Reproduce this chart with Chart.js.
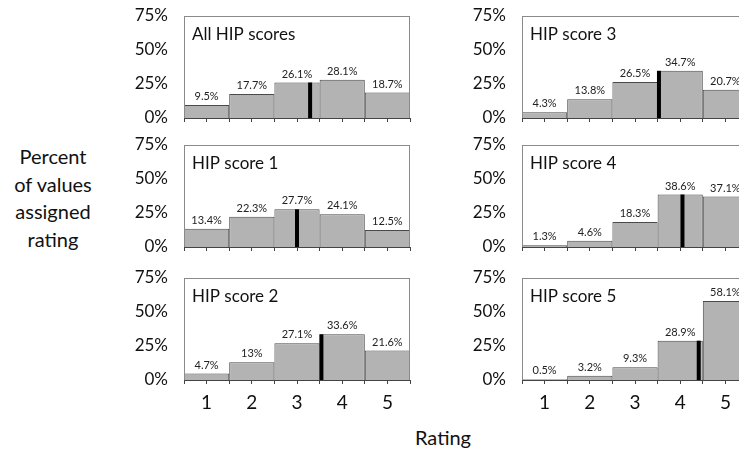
<!DOCTYPE html>
<html>
<head>
<meta charset="utf-8">
<script src="https://cdn.jsdelivr.net/npm/chart.js@4.4.1/dist/chart.umd.min.js"></script>
<style>
  html, body { margin:0; padding:0; background:#fff; overflow:hidden; width:739px; height:455px; }
  body { position:relative; font-family: Lato, "Open Sans", sans-serif; color:#111; }
  .panel { position:absolute; }
  .ytitle { position:absolute; left:0; top:143px; width:106px; text-align:center; font-size:20px; line-height:27.5px; }
  .xtitle { position:absolute; left:393px; width:100px; top:425px; text-align:center; font-size:20px; }
</style>
</head>
<body>
<div class="ytitle">Percent<br>of values<br>assigned<br>rating</div>
<div class="xtitle">Rating</div>
<script>
// ---- data ----
const ratings = [1, 2, 3, 4, 5];
const panelNames = ['All HIP scores', 'HIP score 1', 'HIP score 2', 'HIP score 3', 'HIP score 4', 'HIP score 5'];
const allHip = [9.5, 17.7, 26.1, 28.1, 18.7];
const hip1 = [13.4, 22.3, 27.7, 24.1, 12.5];
const hip2 = [4.7, 13, 27.1, 33.6, 21.6];
const hip3 = [4.3, 13.8, 26.5, 34.7, 20.7];
const hip4 = [1.3, 4.6, 18.3, 38.6, 37.1];
const hip5 = [0.5, 3.2, 9.3, 28.9, 58.1];
const meanRatings = [3.29, 3.00, 3.54, 3.53, 4.05, 4.41];
const yTicks = [0, 25, 50, 75];

const series = [allHip, hip1, hip2, hip3, hip4, hip5];
// layout: [areaLeft, areaTop, bottomRow]
const layoutPos = [
  [184, 16, false], [184, 145, false], [184, 278, true],
  [522, 16, false], [522, 145, false], [522, 278, true]
];
const AREA_W = 226, AREA_H = 102, Y_W = 60, PAD_T = 14, PAD_R = 10;
const FONT = 'Lato, "Open Sans", sans-serif';

const panelPlugin = {
  id: 'panelDecor',
  beforeDatasetsDraw(chart) {
    const a = chart.chartArea, ctx = chart.ctx;
    ctx.save();
    ctx.fillStyle = '#fff';
    ctx.fillRect(a.left, a.top, a.right - a.left, a.bottom - a.top);
    ctx.restore();
  },
  afterDatasetsDraw(chart, args, opts) {
    const a = chart.chartArea, ctx = chart.ctx;
    ctx.save();
    // box
    ctx.strokeStyle = '#8a8a8a';
    ctx.lineWidth = 1;
    ctx.strokeRect(Math.round(a.left) + 0.5, Math.round(a.top) + 0.5, Math.round(a.right - a.left) - 1, Math.round(a.bottom - a.top));
    ctx.strokeStyle = '#444';
    ctx.beginPath();
    ctx.moveTo(a.left, Math.round(a.bottom) + 0.5);
    ctx.lineTo(a.right, Math.round(a.bottom) + 0.5);
    ctx.stroke();
    // value labels
    const meta = chart.getDatasetMeta(0);
    const vals = chart.data.datasets[0].data;
    ctx.fillStyle = '#222';
    ctx.font = '11px ' + FONT;
    ctx.textAlign = 'center';
    ctx.textBaseline = 'bottom';
    meta.data.forEach((el, i) => {
      ctx.fillText(String(vals[i].y) + '%', el.x, el.y - 3);
    });
    // panel name
    ctx.fillStyle = '#111';
    ctx.font = '17px ' + FONT;
    ctx.textAlign = 'left';
    ctx.textBaseline = 'middle';
    ctx.fillText(opts.name, a.left + 8, a.top + 19);
    ctx.restore();
  }
};

series.forEach((vals, p) => {
  const [left, top, bottomRow] = layoutPos[p];
  const xH = bottomRow ? 40 : 14;
  const w = Y_W + AREA_W + PAD_R, h = PAD_T + AREA_H + xH;
  const div = document.createElement('div');
  div.className = 'panel';
  div.style.left = (left - Y_W) + 'px';
  div.style.top = (top - PAD_T) + 'px';
  const cv = document.createElement('canvas');
  cv.width = w; cv.height = h;
  cv.style.width = w + 'px'; cv.style.height = h + 'px';
  div.appendChild(cv);
  document.body.appendChild(div);

  const m = meanRatings[p];
  const barAtMean = vals[Math.round(m) - 1];

  const chart = new Chart(cv, {
    data: {
      datasets: [
        {
          type: 'bar',
          data: ratings.map((r, i) => ({ x: r, y: vals[i] })),
          backgroundColor: '#b3b3b3',
          borderColor: '#4a4a4a',
          borderWidth: 1,
          // tick spacing is half a rating, so a full-rating bar is 2x that
          barPercentage: 2,
          categoryPercentage: 1,
          order: 2
        },
        {
          type: 'line',
          data: [{ x: m, y: 0 }, { x: m, y: barAtMean }],
          borderColor: '#000',
          borderWidth: 4,
          borderCapStyle: 'butt',
          pointRadius: 0,
          order: 1
        }
      ]
    },
    options: {
      responsive: false,
      animation: false,
      devicePixelRatio: 1,
      layout: { padding: { top: PAD_T, right: PAD_R, left: 0, bottom: 0 } },
      plugins: {
        legend: { display: false },
        tooltip: { enabled: false },
        panelDecor: { name: panelNames[p] }
      },
      scales: {
        x: {
          type: 'linear',
          min: 0.5, max: 5.5,
          offset: false,
          afterFit(s) { s.height = xH; },
          border: { display: false },
          grid: { offset: false, drawOnChartArea: false, drawTicks: true, tickLength: 4, color: '#444' },
          ticks: {
            stepSize: 0.5,
            autoSkip: false,
            maxRotation: 0,
            padding: 7,
            color: '#111',
            font: { family: FONT, size: 19 },
            callback: (v) => (bottomRow && Number.isInteger(v)) ? String(v) : ''
          }
        },
        y: {
          min: 0, max: 75,
          afterFit(s) { s.width = Y_W; },
          afterBuildTicks(s) { s.ticks = yTicks.map(v => ({ value: v })); },
          border: { display: false },
          grid: { display: false, drawTicks: true, tickLength: 16 },
          ticks: {
            padding: 0,
            color: '#111',
            font: { family: FONT, size: 17 },
            callback: (v) => v + '%'
          }
        }
      }
    },
    plugins: [panelPlugin]
  });

  // fine-tune canvas placement so the plot area lands where the reference has it
  const a0 = chart.chartArea;
  const dh = AREA_H - (a0.bottom - a0.top);
  if (Math.abs(dh) > 0.5) {
    cv.height = h + dh; cv.style.height = (h + dh) + 'px';
    chart.resize(w, h + dh);
  }
  const a = chart.chartArea;
  div.style.left = (left - a.left) + 'px';
  div.style.top = (top - a.top) + 'px';
});
</script>
</body>
</html>
